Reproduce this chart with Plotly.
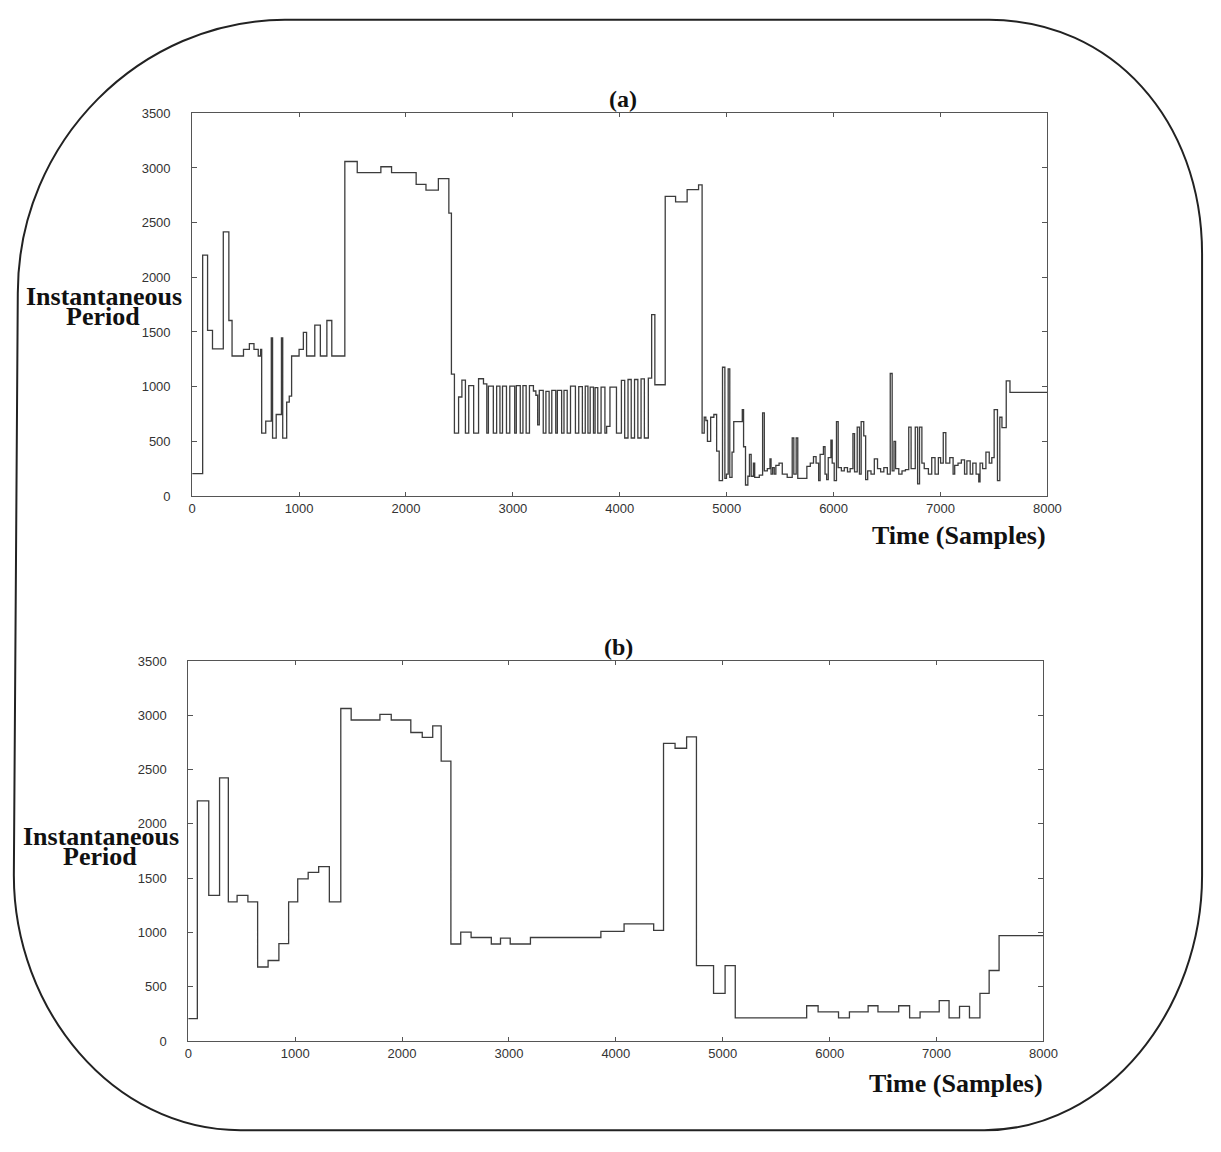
import plotly.graph_objects as go

W, H = 1221, 1152

# ---------------- data (a): raw instantaneous period ----------------
time_a = [0, 98, 144, 190, 291, 343, 373, 480, 535, 578, 618, 640, 650, 688, 740, 752, 786, 835, 847,
          884, 908, 930, 1000, 1040, 1070, 1147, 1199, 1260, 1306, 1428, 1544, 1765, 1865, 2095, 2187,
          2303, 2401, 2425, 2453, 2492, 2523, 2556, 2587, 2633, 2679, 2725, 2756, 2771, 2817, 2848,
          2879, 2903, 2940, 2971, 3017, 3032, 3069, 3094, 3124, 3155, 3192, 3215, 3232, 3247, 3284,
          3309, 3339, 3364, 3401, 3416, 3456, 3478, 3508, 3539, 3585, 3616, 3650, 3677, 3702, 3723,
          3754, 3769, 3794, 3825, 3861, 3877, 3908, 3969, 4015, 4046, 4077, 4107, 4138, 4169, 4199,
          4230, 4267, 4298, 4328, 4425, 4522, 4630, 4737, 4770, 4790, 4805, 4820, 4850, 4880, 4906,
          4930, 4961, 4983, 4998, 5014, 5029, 5050, 5066, 5146, 5158, 5176, 5198, 5213, 5229, 5250,
          5262, 5305, 5336, 5352, 5380, 5405, 5415, 5430, 5445, 5460, 5490, 5520, 5566, 5613, 5628,
          5650, 5665, 5750, 5782, 5812, 5836, 5860, 5874, 5905, 5920, 5935, 5950, 5975, 5987, 6006,
          6027, 6043, 6073, 6100, 6130, 6155, 6181, 6196, 6221, 6242, 6258, 6282, 6300, 6319, 6350,
          6381, 6411, 6440, 6470, 6503, 6530, 6548, 6565, 6580, 6610, 6640, 6672, 6703, 6725, 6764,
          6786, 6804, 6826, 6848, 6887, 6918, 6949, 6980, 7001, 7026, 7050, 7087, 7118, 7133, 7164,
          7195, 7225, 7247, 7278, 7302, 7333, 7358, 7370, 7394, 7425, 7456, 7480, 7502, 7533, 7555,
          7575, 7615, 7650, 8000]
period_a = [204, 2203, 1514, 1346, 2416, 1605, 1280, 1340, 1394, 1340, 1280, 1340, 574, 685, 1445, 529,
            745, 1445, 529, 859, 913, 1280, 1340, 1496, 1280, 1563, 1280, 1605, 1280, 3059, 2957, 3011,
            2957, 2849, 2798, 2903, 2587, 1115, 574, 905, 1060, 574, 1010, 574, 1072, 1026, 574, 1005,
            574, 1005, 574, 1005, 574, 1005, 574, 1010, 574, 1010, 574, 1010, 960, 921, 650, 966, 574,
            957, 574, 966, 574, 966, 574, 966, 574, 1005, 574, 1000, 574, 1005, 574, 996, 574, 990, 574,
            996, 574, 636, 996, 574, 1057, 530, 1065, 530, 1065, 530, 1070, 530, 1078, 1658, 1017, 2741,
            2690, 2801, 2846, 574, 720, 690, 500, 720, 745, 410, 140, 1177, 160, 200, 1162, 170, 400,
            680, 790, 450, 100, 180, 380, 180, 300, 170, 190, 760, 230, 250, 340, 200, 260, 200, 280,
            300, 200, 170, 530, 200, 530, 160, 270, 300, 360, 300, 140, 380, 450, 200, 150, 350, 510,
            300, 140, 680, 260, 230, 260, 220, 250, 570, 220, 630, 200, 680, 550, 150, 230, 200, 340,
            250, 220, 260, 200, 1120, 230, 500, 250, 200, 230, 240, 630, 250, 630, 110, 630, 300, 250,
            200, 350, 200, 350, 300, 580, 300, 350, 200, 280, 300, 330, 200, 320, 200, 300, 200, 130,
            300, 250, 400, 300, 350, 790, 140, 720, 625, 1052, 948, 948]

# ---------------- data (b): smoothed instantaneous period ----------------
time_b = [0, 85, 192, 293, 375, 457, 558, 649, 747, 848, 939, 1024, 1122, 1220, 1320, 1427, 1524,
          1793, 1899, 2082, 2189, 2287, 2366, 2457, 2549, 2646, 2835, 2921, 3012, 3201, 3860, 4077,
          4354, 4446, 4554, 4662, 4754, 4914, 5022, 5117, 5785, 5892, 6083, 6185, 6360, 6452, 6646,
          6748, 6846, 7025, 7117, 7215, 7308, 7406, 7492, 7585, 8000]
period_b = [206, 2212, 1342, 2424, 1282, 1342, 1282, 682, 742, 897, 1282, 1494, 1554, 1606, 1282,
            3063, 2957, 3009, 2957, 2842, 2797, 2903, 2579, 894, 1003, 954, 894, 948, 894, 954, 1010,
            1080, 1020, 2742, 2697, 2802, 695, 440, 695, 214, 325, 268, 214, 268, 325, 268, 325, 214,
            268, 373, 214, 319, 214, 440, 650, 972, 972]

y_ticks = [0, 500, 1000, 1500, 2000, 2500, 3000, 3500]
x_ticks = [0, 1000, 2000, 3000, 4000, 5000, 6000, 7000, 8000]

# ---------------- figure ----------------
def px(x):
    return x / W

def py(y):
    return 1 - y / H

fig = go.Figure()
line_style = dict(color="#3c3c3c", width=1.3, shape="hv")
fig.add_trace(go.Scatter(x=time_a, y=period_a, mode="lines", line=line_style,
                         xaxis="x", yaxis="y", showlegend=False))
fig.add_trace(go.Scatter(x=time_b, y=period_b, mode="lines", line=line_style,
                         xaxis="x2", yaxis="y2", showlegend=False))

tick_font = dict(family="Liberation Sans, Arial, sans-serif", size=13, color="#333")
common_x = dict(range=[0, 8000], tickvals=x_ticks, ticks="inside", ticklen=4, tickcolor="#555",
                showline=True, linecolor="#555", linewidth=1, mirror="ticks", showgrid=False,
                zeroline=False, tickfont=tick_font)
common_y = dict(range=[0, 3500], tickvals=y_ticks, ticks="inside", ticklen=5, tickcolor="#555",
                showline=True, linecolor="#555", linewidth=1, mirror="ticks", showgrid=False,
                zeroline=False, tickfont=tick_font, ticklabelstandoff=18)

fig.update_layout(
    width=W, height=H,
    margin=dict(l=0, r=0, t=0, b=0),
    paper_bgcolor="white", plot_bgcolor="white",
    xaxis=dict(domain=[px(191), px(1059)], anchor="y", **common_x),
    yaxis=dict(domain=[py(495.4), py(107.7)], anchor="x", **common_y),
    xaxis2=dict(domain=[px(187), px(1055)], anchor="y2", **common_x),
    yaxis2=dict(domain=[py(1047.7), py(662.7)], anchor="x2", **common_y),
)

serif_bold = dict(family="Liberation Serif, Times New Roman, serif", color="#111")
annos = [
    ("(a)", 628, 93, 24, "center"),
    ("(b)", 624, 648, 24, "center"),
    ("Time (Samples)", 1060, 535, 26, "right"),
    ("Time (Samples)", 1057, 1091, 26, "right"),
    ("Instantaneous", 101, 293, 26, "center"),
    ("Period", 100, 314, 26, "center"),
    ("Instantaneous", 98, 840, 26, "center"),
    ("Period", 97, 861, 26, "center"),
]
for text, x, y, size, align in annos:
    fig.add_annotation(text="<b>%s</b>" % text, x=px(x), y=py(y), xref="paper", yref="paper",
                       xanchor=align, yanchor="middle", showarrow=False,
                       font=dict(size=size, **serif_bold))

# rounded border around the whole figure
def P(x, y):
    return "%.5f,%.5f" % (px(x), py(y))

path = ("M " + P(285, 13) + " L " + P(1000, 13) +
        " C " + P(1125, 13) + " " + P(1216, 115) + " " + P(1216, 250) +
        " L " + P(1216, 880) +
        " C " + P(1216, 1015) + " " + P(1120, 1138) + " " + P(995, 1138) +
        " L " + P(240, 1138) +
        " C " + P(110, 1138) + " " + P(10, 1015) + " " + P(10, 880) +
        " L " + P(14, 290) +
        " C " + P(14, 135) + " " + P(140, 13) + " " + P(285, 13) + " Z")
fig.add_shape(type="path", path=path, xref="paper", yref="paper",
              line=dict(color="#222", width=2), fillcolor="rgba(0,0,0,0)", layer="below")

fig.write_html("out.html")
